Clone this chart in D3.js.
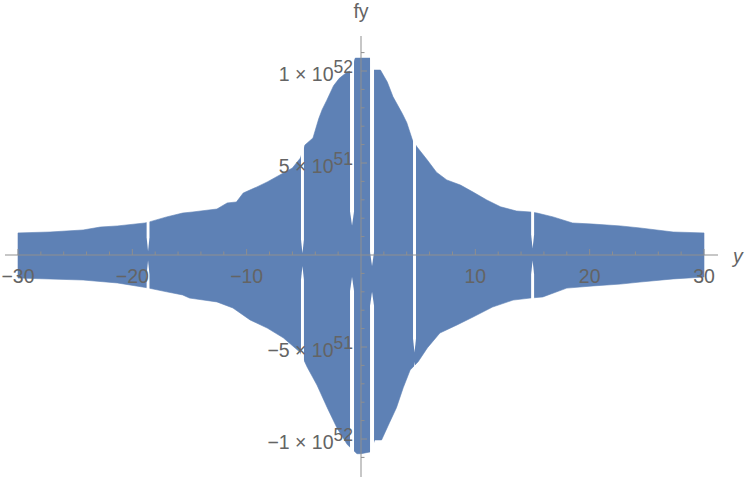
<!DOCTYPE html>
<html>
<head>
<meta charset="utf-8">
<script src="https://cdn.jsdelivr.net/npm/d3@7"></script>
<style>
  html, body { margin: 0; padding: 0; background: #fff; }
  svg { display: block; }
</style>
</head>
<body>
<svg id="chart" width="747" height="480"></svg>
<script>
// ---- data (values of fy in units of 1e51) ----
const upperX = [-30, -27.2, -24.3, -22.8, -21.3, -18.9, -18.5, -17.0, -15.6, -14.7, -12.6, -11.7, -10.9, -10.3, -9.1, -8.2, -7.1, -6.0, -5.3, -4.9, -4.2, -3.7, -3.4, -3.0, -2.4, -1.9, -1.2, -0.9, -0.5, 0.0, 0.8, 1.1, 1.7, 2.3, 2.8, 3.6, 4.0, 4.5, 4.9, 5.8, 6.6, 7.5, 8.7, 9.8, 11.0, 12.2, 13.6, 14.8, 15.4, 16.8, 18.5, 20.3, 22.7, 24.4, 27.3, 30];
const upperV = [1.20, 1.25, 1.36, 1.52, 1.58, 1.74, 1.80, 2.07, 2.28, 2.34, 2.50, 2.83, 2.88, 3.37, 3.70, 3.97, 4.35, 4.73, 5.27, 5.98, 6.36, 7.40, 7.90, 8.40, 9.20, 9.60, 9.95, 10.0, 10.7, 10.7, 10.7, 10.05, 10.05, 9.40, 8.60, 7.70, 7.20, 6.25, 5.87, 5.16, 4.50, 4.08, 3.80, 3.42, 2.99, 2.62, 2.39, 2.34, 2.28, 2.07, 1.74, 1.68, 1.58, 1.47, 1.25, 1.20];

const lowerX = [-30, -24.3, -21.3, -18.7, -17.0, -15.6, -15.0, -12.6, -11.2, -9.7, -8.2, -6.8, -5.3, -4.7, -3.85, -2.95, -2.1, -1.2, -0.35, 0.0, 0.8, 1.2, 1.8, 2.5, 3.1, 3.7, 4.3, 5.0, 5.8, 6.9, 8.4, 9.8, 11.5, 13.3, 14.8, 15.9, 18.0, 20.3, 22.7, 24.4, 27.3, 30];
const lowerV = [-1.25, -1.36, -1.52, -1.78, -2.00, -2.17, -2.34, -2.55, -2.88, -3.53, -3.97, -4.50, -5.30, -6.10, -7.07, -8.30, -9.40, -10.3, -10.8, -10.8, -10.7, -10.05, -10.05, -9.10, -8.30, -7.20, -6.25, -5.80, -5.05, -4.24, -3.80, -3.37, -2.83, -2.45, -2.34, -2.28, -1.80, -1.68, -1.58, -1.47, -1.30, -1.20];

// white gaps where the sampled curve jumps (x from, x to, end of upper stripe, start of lower stripe)
const gapX0 = [-18.75, -5.25, -0.96, 0.79, 4.55, 14.88];
const gapX1 = [-18.50, -4.99, -0.61, 1.14, 4.81, 15.14];
const gapUpperEnd = [0.2, 0.1, 1.6, -0.6, -5.3, 0.35];
const gapLowerStart = [-0.3, -0.6, -1.2, -2.0, -5.8, -0.3];

const xMajorTicks = [-30, -20, -10, 10, 20, 30];
const xTickLabels = ["\u221230", "\u221220", "\u221210", "10", "20", "30"];
const xMinorTicks = [-28, -26, -24, -22, -18, -16, -14, -12, -8, -6, -4, -2, 2, 4, 6, 8, 12, 14, 16, 18, 22, 24, 26, 28];
const yMajorTicks = [-1e52, -5e51, 5e51, 1e52];
const yTickMantissa = ["\u22121 \u00d7 10", "\u22125 \u00d7 10", "5 \u00d7 10", "1 \u00d7 10"];
const yTickExponent = ["52", "51", "51", "52"];
const yMinorTicks = [-11e51, -9e51, -8e51, -7e51, -6e51, -4e51, -3e51, -2e51, -1e51, 1e51, 2e51, 3e51, 4e51, 6e51, 7e51, 8e51, 9e51, 11e51];
const UNIT = 1e51;

// ---- drawing ----
const svg = d3.select("#chart");
const x = d3.scaleLinear().domain([-30, 30]).range([18, 704]);
const y = d3.scaleLinear().domain([-1e52, 1e52]).range([439, 71]);

const fill = "#5E81B5";
const axisCol = "#8f8f8f";
const textCol = "#646464";
const font = "'Liberation Sans', Arial, sans-serif";

// envelope polygon
const pts = upperX.map((d, i) => [d, upperV[i] * UNIT])
  .concat(lowerX.map((d, i) => [d, lowerV[i] * UNIT]).reverse());
const line = d3.line().x(d => x(d[0])).y(d => y(d[1]));
svg.append("path")
  .attr("d", line(pts) + "Z")
  .attr("fill", fill)
  .attr("stroke", fill)
  .attr("stroke-width", 0.6);

// gaps
const topY = y(1.2e52), botY = y(-1.2e52);
gapX0.forEach((g, i) => {
  const a = x(g), b = x(gapX1[i]), m = (a + b) / 2;
  const ue = y(gapUpperEnd[i] * UNIT), ls = y(gapLowerStart[i] * UNIT);
  const taper = 14;
  svg.append("path")
    .attr("d", `M${a},${topY}L${b},${topY}L${b},${ue - taper}L${m},${ue}L${a},${ue - taper}Z`)
    .attr("fill", "#fff");
  svg.append("path")
    .attr("d", `M${m},${ls}L${b},${ls + taper}L${b},${botY}L${a},${botY}L${a},${ls + taper}Z`)
    .attr("fill", "#fff");
});

// axes
const y0 = y(0), x0 = x(0);
svg.append("line").attr("x1", 5).attr("x2", 718).attr("y1", y0).attr("y2", y0)
  .attr("stroke", axisCol).attr("stroke-width", 1);
svg.append("line").attr("x1", x0).attr("x2", x0).attr("y1", 36).attr("y2", 477)
  .attr("stroke", axisCol).attr("stroke-width", 1);

// x ticks
xMajorTicks.forEach(t => {
  svg.append("line").attr("x1", x(t)).attr("x2", x(t)).attr("y1", y0).attr("y2", y0 - 6)
    .attr("stroke", axisCol);
});
xMinorTicks.forEach(t => {
  svg.append("line").attr("x1", x(t)).attr("x2", x(t)).attr("y1", y0).attr("y2", y0 - 3.5)
    .attr("stroke", axisCol);
});
// y ticks
yMajorTicks.forEach(t => {
  svg.append("line").attr("x1", x0).attr("x2", x0 + 6).attr("y1", y(t)).attr("y2", y(t))
    .attr("stroke", axisCol);
});
yMinorTicks.forEach(t => {
  svg.append("line").attr("x1", x0).attr("x2", x0 + 3.5).attr("y1", y(t)).attr("y2", y(t))
    .attr("stroke", axisCol);
});

// x tick labels
xMajorTicks.forEach((t, i) => {
  svg.append("text").attr("x", x(t)).attr("y", y0 + 28)
    .attr("text-anchor", "middle")
    .attr("font-family", font).attr("font-size", 19.5).attr("fill", textCol)
    .text(xTickLabels[i]);
});
// y tick labels
yMajorTicks.forEach((t, i) => {
  const tx = svg.append("text").attr("x", 353).attr("y", y(t) + 9.5)
    .attr("text-anchor", "end")
    .attr("font-family", font).attr("font-size", 19.5).attr("fill", textCol);
  tx.append("tspan").text(yTickMantissa[i]);
  tx.append("tspan").attr("dy", -8).attr("font-size", 17.5).text(yTickExponent[i]);
});

// axis labels
svg.append("text").attr("x", x0).attr("y", 18).attr("text-anchor", "middle")
  .attr("font-family", font).attr("font-size", 19.5).attr("fill", textCol).text("fy");
svg.append("text").attr("x", 733).attr("y", 263).attr("text-anchor", "start")
  .attr("font-family", font).attr("font-size", 19.5).attr("font-style", "italic")
  .attr("fill", textCol).text("y");
</script>
</body>
</html>
